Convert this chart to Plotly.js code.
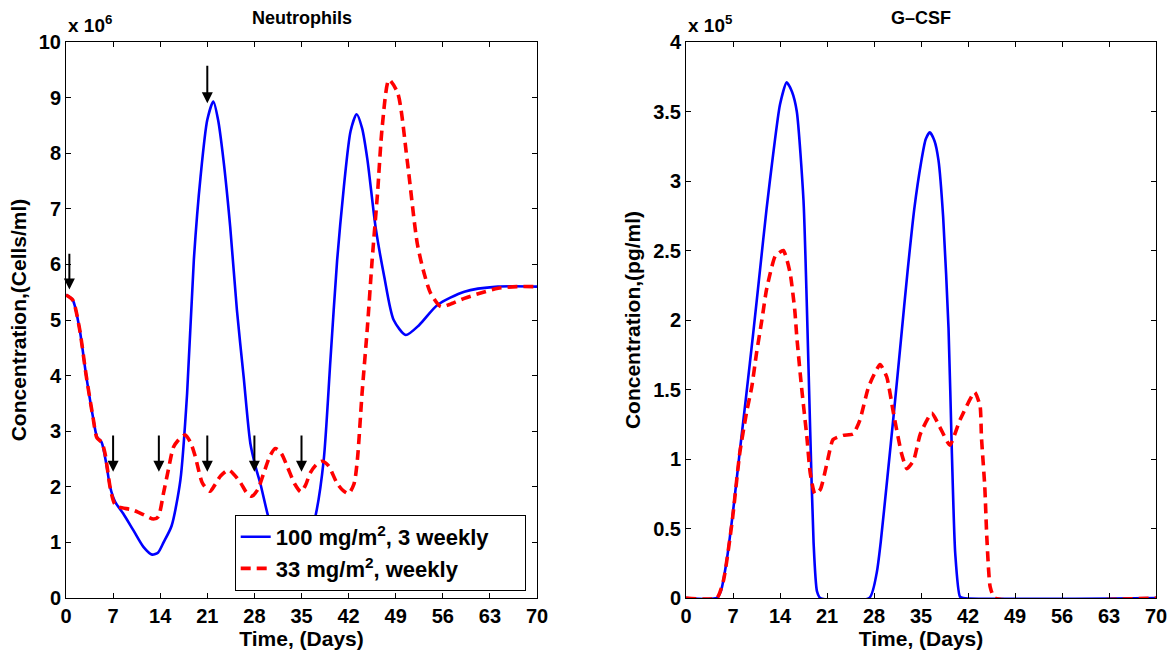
<!DOCTYPE html>
<html>
<head>
<meta charset="utf-8">
<script src="https://cdn.plot.ly/plotly-3.0.1.min.js"></script>
<style>html,body{margin:0;padding:0;background:#fff;}#chart{width:1175px;height:655px;}</style>
</head>
<body>
<div id="chart"></div>
<script>
// ---- Data (neutrophils in units of 1e6 cells/ml, G-CSF in units of 1e5 pg/ml) ----
const seriesNames = ['100 mg/m<sup>2</sup>, 3 weekly', '33 mg/m<sup>2</sup>, weekly'];

const neutT_100 = [0,1,2,3,4,4.6,5.3,6.06,6.55,7.3,8.5,10,11.5,12.8,13.7,14.5,15.7,17,18,19,20,21,21.9,22.6,23.4,24.4,25.4,26.4,27.4,28.2,28.9,30,31,33.5,36,37.1,38.3,39.3,40.3,41.3,42.3,43.2,44,44.8,46,47.3,48.7,50.5,52.5,55.2,59.2,64.2,70];
const neut_100  = [5.45,5.36,4.85,4.0,3.26,2.9,2.8,2.36,2.0,1.73,1.52,1.22,0.92,0.78,0.82,1.0,1.3,2.12,3.68,6.08,7.58,8.6,8.93,8.6,7.88,6.68,5.18,3.98,2.78,2.35,2.05,1.49,1.1,0.8,1.05,1.49,2.48,4.28,6.08,7.4,8.4,8.7,8.45,7.88,6.68,5.78,5.0,4.73,4.91,5.27,5.51,5.6,5.6];

const neutT_33 = [0,1,2,3,4,4.6,5.3,5.8,6.6,7.2,7.8,10,12,13,13.7,14.5,15.2,16,17,17.7,18.5,19.2,20.3,21.4,22.2,23,24.2,25.9,26.8,27.6,28.5,29.4,30.3,31.1,32,32.9,34,34.9,35.6,36.3,37.2,38.1,39,40.3,41.2,42,42.8,43.3,44,44.8,45.5,46.3,47,48,49.3,50.7,52.2,53.2,54.2,55.7,57,59.2,61.5,64.2,67,70];
const neut_33  = [5.45,5.36,4.85,4.0,3.26,2.88,2.8,2.6,1.96,1.7,1.64,1.58,1.47,1.42,1.46,1.89,2.3,2.72,2.88,2.93,2.8,2.55,2.06,1.92,2.05,2.2,2.3,2.08,1.9,1.83,1.95,2.25,2.55,2.69,2.6,2.36,2.05,1.91,2.03,2.25,2.4,2.46,2.38,2.06,1.93,1.88,2.05,2.48,3.68,4.88,6.08,7.28,8.48,9.32,9.08,7.88,6.38,5.85,5.48,5.24,5.28,5.39,5.48,5.57,5.6,5.6];

const gcsfT_100 = [0,4.6,5.2,6,7,8,9,10,11,12,13,14,15,15.8,16.5,17.5,18,18.5,19,19.5,20,27.3,28.4,29,30,31,32,33,34,35,35.7,36.3,37,37.6,38.3,39.1,39.6,40.1,40.8,41.3,70];
const gcsf_100  = [0,0,0.05,0.25,0.62,1.05,1.47,1.9,2.35,2.8,3.2,3.55,3.71,3.64,3.5,2.86,2.1,1.2,0.4,0.05,0,0,0.18,0.4,0.87,1.35,1.85,2.35,2.8,3.13,3.3,3.35,3.29,3.15,2.74,1.94,1.04,0.32,0.01,0,0];

const gcsfT_33 = [0,4.6,5.6,6.9,8,9,9.8,10.5,11.3,12,13.3,14.5,15.5,16.2,16.5,17.2,18,18.5,19.2,20,21,21.9,23.4,24.9,25.9,27.2,28.9,29.9,30.9,32.1,32.9,33.9,34.9,36.6,37.8,39.3,40.8,43,43.8,44,44.5,44.8,45.3,46,70];
const gcsf_33  = [0,0,0.13,0.56,1.04,1.33,1.52,1.76,2.0,2.22,2.46,2.5,2.34,2.07,1.88,1.52,1.16,0.9,0.75,0.78,0.97,1.14,1.17,1.18,1.28,1.52,1.68,1.59,1.33,1.04,0.93,0.99,1.18,1.33,1.23,1.1,1.28,1.48,1.38,1.16,0.8,0.44,0.08,0,0];

// dose arrows on the neutrophil panel (day, tip value, tail value)
const arrowDay  = [0.5, 7, 13.8, 21, 21, 28, 35];
const arrowTip  = [5.55, 2.27, 2.27, 2.27, 8.9, 2.27, 2.27];
const arrowTail = [6.22, 2.95, 2.95, 2.95, 9.6, 2.95, 2.95];

const xTicks = [0,7,14,21,28,35,42,49,56,63,70];
const yTicksN = [0,1,2,3,4,5,6,7,8,9,10];
const yTicksG = [0,0.5,1,1.5,2,2.5,3,3.5,4];
const yTickTextG = ['0','0.5','1','1.5','2','2.5','3','3.5','4'];

// ---- Styling ----
const FONT = 'Liberation Sans, Arial, Helvetica, sans-serif';
const BLUE = '#0000ff';
const RED = '#ff0000';
const PAD = '\u00a0\u00a0\u00a0\u00a0\u00a0';

const traces = [
  {x: neutT_100, y: neut_100, xaxis:'x', yaxis:'y', mode:'lines', name: seriesNames[0] + PAD, legendgroup:'a',
   line:{color:BLUE, width:2.6, shape:'spline', smoothing:0.7}},
  {x: neutT_33, y: neut_33, xaxis:'x', yaxis:'y', mode:'lines', name: seriesNames[1] + PAD, legendgroup:'b',
   line:{color:RED, width:3.6, dash:'10px,6px', shape:'spline', smoothing:0.7}},
  {x: gcsfT_100, y: gcsf_100, xaxis:'x2', yaxis:'y2', mode:'lines', showlegend:false,
   line:{color:BLUE, width:2.6, shape:'spline', smoothing:0.6}},
  {x: gcsfT_33, y: gcsf_33, xaxis:'x2', yaxis:'y2', mode:'lines', showlegend:false,
   line:{color:RED, width:3.6, dash:'10px,6px', shape:'spline', smoothing:0.5}}
];

const axisCommon = {
  showline:true, linecolor:'black', linewidth:1, mirror:'ticks',
  ticks:'inside', ticklen:5, tickwidth:1, tickcolor:'black',
  showgrid:false, zeroline:false, automargin:false,
  tickfont:{family:FONT, size:20, weight:'bold', color:'black'}
};
const titleFont = {family:FONT, size:21, weight:'bold', color:'black'};

const W = 1175, H = 655;
const margin = {l:66, r:19, t:42, b:57};
const plotW = W - margin.l - margin.r;
const plotH = H - margin.t - margin.b;
const d1 = (537 - 66) / plotW;
const d2 = (686 - 66) / plotW;

const annotations = [];
for (let i = 0; i < arrowDay.length; i++) {
  annotations.push({
    x: arrowDay[i], y: arrowTip[i], ax: arrowDay[i], ay: arrowTail[i],
    xref:'x', yref:'y', axref:'x', ayref:'y', text:'', showarrow:true,
    arrowhead:2, arrowsize:1.1, arrowwidth:2, arrowcolor:'black', standoff:0, startstandoff:0
  });
}
// panel titles
annotations.push({text:'Neutrophils', xref:'paper', yref:'paper', x:d1/2, y:1 + 24/plotH,
  xanchor:'center', yanchor:'middle', showarrow:false, font:{family:FONT, size:18, weight:'bold', color:'black'}});
annotations.push({text:'G\u2013CSF', xref:'paper', yref:'paper', x:(d2+1)/2, y:1 + 24/plotH,
  xanchor:'center', yanchor:'middle', showarrow:false, font:{family:FONT, size:18, weight:'bold', color:'black'}});
// exponent labels
annotations.push({text:'x 10<sup>6</sup>', xref:'paper', yref:'paper', x:0, y:1 + 4/plotH,
  xanchor:'left', yanchor:'bottom', showarrow:false, font:{family:FONT, size:19, weight:'bold', color:'black'}});
annotations.push({text:'x 10<sup>5</sup>', xref:'paper', yref:'paper', x:d2, y:1 + 4/plotH,
  xanchor:'left', yanchor:'bottom', showarrow:false, font:{family:FONT, size:19, weight:'bold', color:'black'}});

const layout = {
  width:W, height:H, margin:margin,
  paper_bgcolor:'white', plot_bgcolor:'white',
  font:{family:FONT, color:'black'},
  showlegend:true,
  legend:{x:(525.7-66)/plotW, y:(598-591)/plotH, xanchor:'right', yanchor:'bottom',
    bgcolor:'white', bordercolor:'black', borderwidth:1, tracegroupgap:6, traceorder:'normal',
    font:{family:FONT, size:22, weight:'bold', color:'black'}},
  xaxis: Object.assign({}, axisCommon, {domain:[0,d1], anchor:'y', range:[0,70], tickvals:xTicks,
    title:{text:'Time, (Days)', font:titleFont, standoff:4}}),
  yaxis: Object.assign({}, axisCommon, {domain:[0,1], anchor:'x', range:[0,10], tickvals:yTicksN,
    title:{text:'Concentration,(Cells/ml)', font:titleFont, standoff:6}}),
  xaxis2: Object.assign({}, axisCommon, {domain:[d2,1], anchor:'y2', range:[0,70], tickvals:xTicks,
    title:{text:'Time, (Days)', font:titleFont, standoff:4}}),
  yaxis2: Object.assign({}, axisCommon, {domain:[0,1], anchor:'x2', range:[0,4], tickvals:yTicksG, ticktext:yTickTextG,
    title:{text:'Concentration,(pg/ml)', font:titleFont, standoff:6}}),
  annotations: annotations
};

Plotly.newPlot('chart', traces, layout, {staticPlot:true, displayModeBar:false});
</script>
</body>
</html>
